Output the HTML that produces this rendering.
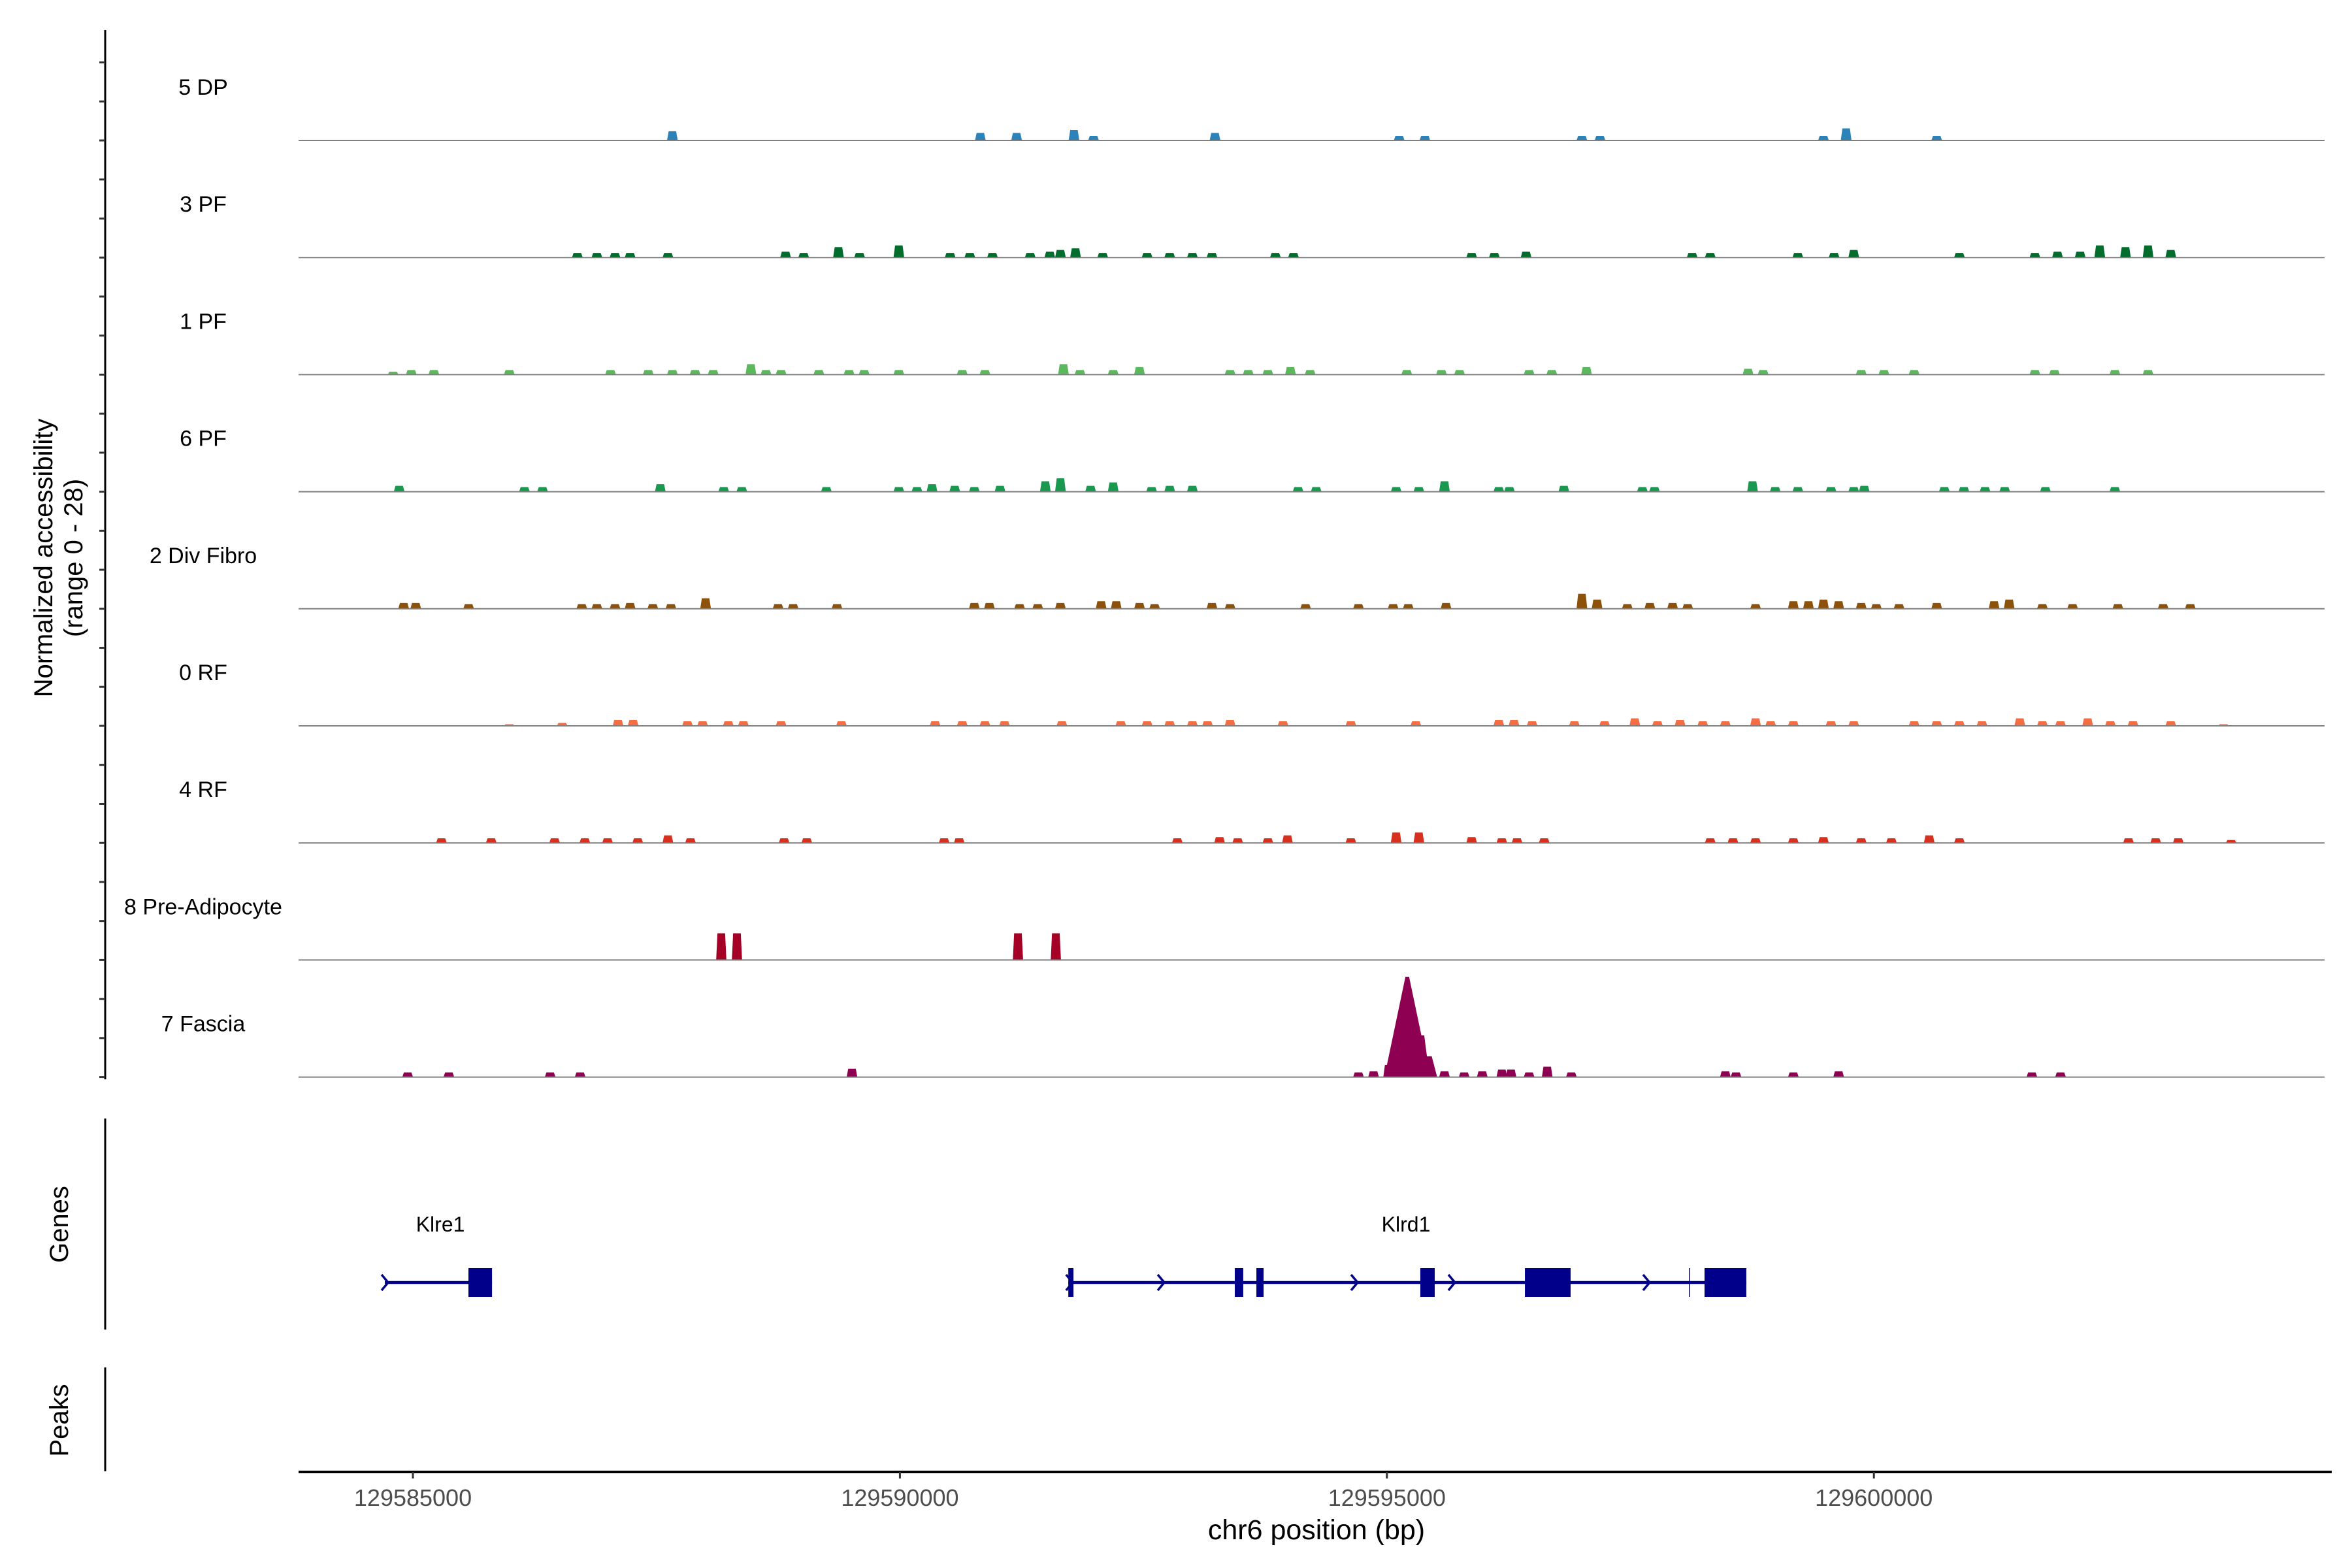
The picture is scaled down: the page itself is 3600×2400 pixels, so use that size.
<!DOCTYPE html>
<html><head><meta charset="utf-8">
<style>
html,body{margin:0;padding:0;background:#fff;}
svg{display:block;font-family:"Liberation Sans",Arial,sans-serif;}
</style></head>
<body>
<svg id="chart" width="3600" height="2400" viewBox="0 0 3600 2400" xmlns="http://www.w3.org/2000/svg">
<rect width="3600" height="2400" fill="#fff"/>
<g id="tracks"></g>
<g id="genes"></g>
<g id="axes"></g>
<text transform="translate(80,854) rotate(-90)" text-anchor="middle" font-size="40" fill="#000">Normalized accessibility</text>
<text transform="translate(126,854) rotate(-90)" text-anchor="middle" font-size="40" fill="#000">(range 0 - 28)</text>
<text transform="translate(104,1874) rotate(-90)" text-anchor="middle" font-size="40" fill="#000">Genes</text>
<text transform="translate(104,2174) rotate(-90)" text-anchor="middle" font-size="40" fill="#000">Peaks</text>
<text x="2015" y="2356" text-anchor="middle" font-size="43" fill="#000">chr6 position (bp)</text>
</svg>
<script>
// ---- data ----
const regionStart = 129583826;
const regionEnd = 129604627;
const yMax = 28;
const xTicks = [129585000, 129590000, 129595000, 129600000];
const trackNames = ["5 DP","3 PF","1 PF","6 PF","2 Div Fibro","0 RF","4 RF","8 Pre-Adipocyte","7 Fascia"];
const trackColors = ["#2b83ba","#006d2c","#5cb85c","#1a9850","#8c510a","#f46d43","#d7301f","#a50026","#8e0152"];
const pos0 = [129587664,129590826,129591198,129591787,129591988,129593235,129595126,129595390,129597002,129597188,129599482,129599715,129600645];
const val0 = [2.2,1.8,1.8,2.5,1.1,1.8,1.1,1.1,1.1,1.1,1.1,2.9,1.1];
const pos1 = [129586688,129586889,129587075,129587230,129587618,129588826,129589012,129589369,129589586,129589989,129590516,129590718,129590950,129591338,129591539,129591648,129591803,129592082,129592538,129592770,129593003,129593204,129593855,129594041,129595870,129596103,129596429,129598134,129598320,129599219,129599591,129599793,129600878,129601653,129601885,129602118,129602319,129602583,129602815,129603048];
const val1 = [1.1,1.1,1.1,1.1,1.1,1.4,1.1,2.5,1.1,2.9,1.1,1.1,1.1,1.1,1.4,1.8,2.2,1.1,1.1,1.1,1.1,1.1,1.1,1.1,1.1,1.1,1.4,1.1,1.1,1.1,1.1,1.8,1.1,1.1,1.4,1.4,2.9,2.5,2.9,1.8];
const pos2 = [129584797,129584983,129585215,129585990,129587029,129587416,129587664,129587897,129588083,129588470,129588625,129588780,129589168,129589478,129589633,129589989,129590640,129590873,129591679,129591849,129592190,129592460,129593390,129593576,129593778,129594010,129594212,129595204,129595560,129595746,129596460,129596693,129597049,129598708,129598863,129599870,129600103,129600413,129601653,129601854,129602474,129602815];
const val2 = [0.7,1.1,1.1,1.1,1.1,1.1,1.1,1.1,1.1,2.5,1.1,1.1,1.1,1.1,1.1,1.1,1.1,1.1,2.5,1.1,1.1,1.8,1.1,1.1,1.1,1.8,1.1,1.1,1.1,1.1,1.1,1.1,1.8,1.4,1.1,1.1,1.1,1.1,1.1,1.1,1.1,1.1];
const pos3 = [129584859,129586145,129586331,129587540,129588191,129588377,129589245,129589989,129590175,129590330,129590563,129590764,129591028,129591493,129591648,129591958,129592190,129592584,129592770,129593003,129594088,129594274,129595095,129595328,129595591,129596149,129596258,129596817,129597623,129597747,129598754,129598987,129599219,129599560,129599793,129599901,129600723,129600924,129601141,129601343,129601761,129602474];
const val3 = [1.4,1.1,1.1,1.8,1.1,1.1,1.1,1.1,1.1,1.8,1.4,1.1,1.4,2.5,3.2,1.4,2.2,1.1,1.4,1.4,1.1,1.1,1.1,1.1,2.5,1.1,1.1,1.4,1.1,1.1,2.5,1.1,1.1,1.1,1.1,1.4,1.1,1.1,1.1,1.1,1.1,1.1];
const pos4 = [129584905,129585029,129585572,129586734,129586889,129587075,129587230,129587463,129587649,129588005,129588749,129588904,129589354,129590764,129590919,129591229,129591415,129591648,129592066,129592221,129592460,129592615,129593204,129593390,129594165,129594708,129595064,129595219,129595607,129597002,129597158,129597468,129597700,129597933,129598088,129598785,129599173,129599328,129599482,129599638,129599870,129600025,129600258,129600645,129601234,129601389,129601730,129602040,129602505,129602970,129603249];
const val4 = [1.4,1.4,1.1,1.1,1.1,1.1,1.4,1.1,1.1,2.5,1.1,1.1,1.1,1.4,1.4,1.1,1.1,1.4,1.8,1.8,1.4,1.1,1.4,1.1,1.1,1.1,1.1,1.1,1.4,3.6,2.2,1.1,1.4,1.4,1.1,1.1,1.8,1.8,2.2,1.8,1.4,1.1,1.1,1.4,1.8,2.2,1.1,1.1,1.1,1.1,1.1];
const pos5 = [129585990,129586533,129587106,129587261,129587819,129587974,129588238,129588393,129588780,129589400,129590361,129590640,129590873,129591074,129591663,129592268,129592538,129592770,129593003,129593158,129593390,129593933,129594630,129595297,129596149,129596305,129596491,129596925,129597235,129597545,129597778,129598010,129598243,129598475,129598785,129598940,129599173,129599560,129599793,129600413,129600645,129600878,129601110,129601498,129601730,129601916,129602195,129602428,129602660,129603048,129603590];
const val5 = [0.4,0.7,1.4,1.4,1.1,1.1,1.1,1.1,1.1,1.1,1.1,1.1,1.1,1.1,1.1,1.1,1.1,1.1,1.1,1.1,1.4,1.1,1.1,1.1,1.4,1.4,1.1,1.1,1.1,1.8,1.1,1.4,1.1,1.1,1.8,1.1,1.1,1.1,1.1,1.1,1.1,1.1,1.1,1.8,1.1,1.1,1.8,1.1,1.1,1.1,0.4];
const pos6 = [129585293,129585804,129586455,129586765,129586998,129587308,129587618,129587850,129588811,129589044,129590454,129590609,129592848,129593282,129593468,129593778,129593979,129594630,129595095,129595328,129595870,129596180,129596336,129596615,129598320,129598553,129598785,129599173,129599482,129599870,129600180,129600568,129600878,129602614,129602893,129603125,129603668];
const val6 = [1.1,1.1,1.1,1.1,1.1,1.1,1.8,1.1,1.1,1.1,1.1,1.1,1.1,1.4,1.1,1.1,1.8,1.1,2.5,2.5,1.4,1.1,1.1,1.1,1.1,1.1,1.1,1.1,1.4,1.1,1.1,1.8,1.1,1.1,1.1,1.1,0.7];
const pos7 = [129588166,129588327,129591212,129591601];
const val7 = [6.4,6.4,6.4,6.4];
const pos8 = [129584946,129585369,129586409,129586717,129589508,129594708,129594863,129595018,129595209,129595359,129595436,129595591,129595793,129595979,129596180,129596274,129596460,129596646,129596894,129598475,129598584,129599173,129599638,129601622,129601916];
const val8 = [1.1,1.1,1.1,1.1,2.0,1.1,1.4,2.9,24,10,5,1.4,1.1,1.4,1.8,1.8,1.1,2.5,1.1,1.4,1.1,1.1,1.4,1.1,1.1];
const trackPos = [pos0,pos1,pos2,pos3,pos4,pos5,pos6,pos7,pos8];
const trackVal = [val0,val1,val2,val3,val4,val5,val6,val7,val8];
// genes
const geneNames = ["Klre1","Klrd1"];
const geneStarts = [129584712,129591729];
const geneEnds = [129585812,129598690];
const geneLabelPos = [129585282,129595196];
const exonStarts = [129585570,129591729,129593438,129593660,129595343,129596417,129598261];
const exonEnds = [129585812,129591782,129593525,129593734,129595491,129596886,129598690];
const chevronPos = [129584712,129591740,129592681,129594666,129595665,129597664];
const markerPos = [129598107];

// ---- layout ----
const NS = "http://www.w3.org/2000/svg";
const plotL = 457, plotR = 3558;
const firstBase = 215, trackH = 179.2;
function xs(bp){ return plotL + (bp - regionStart) / (regionEnd - regionStart) * (plotR - plotL); }
function ys(v){ return v / yMax * trackH; }
function mk(tag, attrs, parent){ const e = document.createElementNS(NS, tag); for (const k in attrs) e.setAttribute(k, attrs[k]); parent.appendChild(e); return e; }

const gT = document.getElementById('tracks');
trackNames.forEach((name, i) => {
  const base = firstBase + i * trackH;
  const lab = mk('text', {x: 311, y: base - 70, 'text-anchor': 'middle', 'font-size': 34, fill: '#000'}, gT);
  
  
  lab.textContent = name;
  const ps = trackPos[i], vs = trackVal[i];
  ps.forEach((p, j) => {
    const v = vs[j];
    let w = 110, top = 0.7;
    if (i === 8 && v > 20) { w = 470; top = 0.08; }
    else if (i === 8 && v > 4) { w = 160; top = 0.3; }
    if (i === 7) { w = 105; top = 0.75; }
    const x0 = xs(p - w/2), x1 = xs(p + w/2);
    const xm = (x0 + x1)/2, hw = (x1 - x0)/2 * top;
    const h = ys(v);
    const pg = mk('polygon', {points: `${x0},${base} ${xm-hw},${base-h} ${xm+hw},${base-h} ${x1},${base}`, fill: trackColors[i]}, gT);
    
    
  });
  const bl = mk('line', {x1: plotL, x2: plotR, y1: base, y2: base, stroke: '#7f7f7f', 'stroke-width': 2}, gT);
  
  
});

// genes
const gG = document.getElementById('genes');
const geneY = 1963, exH = 44;
geneNames.forEach((g, i) => {
  const ln = mk('line', {x1: xs(geneStarts[i]), x2: xs(geneEnds[i]), y1: geneY, y2: geneY, stroke: '#00008b', 'stroke-width': 4.5}, gG);
  
  
  const t = mk('text', {x: xs(geneLabelPos[i]), y: 1885, 'text-anchor': 'middle', 'font-size': 32, fill: '#000'}, gG);
  
  
  t.textContent = g;
});
exonStarts.forEach((s, i) => {
  const r = mk('rect', {x: xs(s), y: geneY - exH/2, width: Math.max(5, xs(exonEnds[i]) - xs(s)), height: exH, fill: '#00008b'}, gG);
  
  
});
chevronPos.forEach(p => {
  const x = xs(p);
  const c = mk('polyline', {points: `${x-5},${geneY-12} ${x+5},${geneY} ${x-5},${geneY+12}`, fill: 'none', stroke: '#00008b', 'stroke-width': 3.5}, gG);
  
  
});
markerPos.forEach(p => {
  const tl = mk('line', {x1: xs(p), x2: xs(p), y1: geneY - exH/2, y2: geneY + exH/2, stroke: '#00008b', 'stroke-width': 1.5}, gG);
  
  
});

// axes
const gA = document.getElementById('axes');
const ya = mk('line', {x1: 161, x2: 161, y1: 46, y2: 1652, stroke: '#000', 'stroke-width': 3}, gA);


for (let k = 0; k <= 27; k++) {
  const y = firstBase + 8*trackH - k * trackH/3;
  if (y < 50) break;
  const tk = mk('line', {x1: 152, x2: 161, y1: y, y2: y, stroke: '#333', 'stroke-width': 3}, gA);
  
  
}
const ga = mk('line', {x1: 161, x2: 161, y1: 1712, y2: 2035, stroke: '#000', 'stroke-width': 3}, gA);


const pa = mk('line', {x1: 161, x2: 161, y1: 2093, y2: 2252, stroke: '#000', 'stroke-width': 3}, gA);


const xa = mk('line', {x1: plotL, x2: 3569, y1: 2253, y2: 2253, stroke: '#000', 'stroke-width': 4}, gA);


xTicks.forEach(t => {
  const x = xs(t);
  const tk = mk('line', {x1: x, x2: x, y1: 2253, y2: 2263, stroke: '#333', 'stroke-width': 3}, gA);
  
  
  const lb = mk('text', {x: x, y: 2305, 'text-anchor': 'middle', 'font-size': 36, fill: '#4d4d4d'}, gA);
  
  
  lb.textContent = String(t);
});
</script>
</body></html>
